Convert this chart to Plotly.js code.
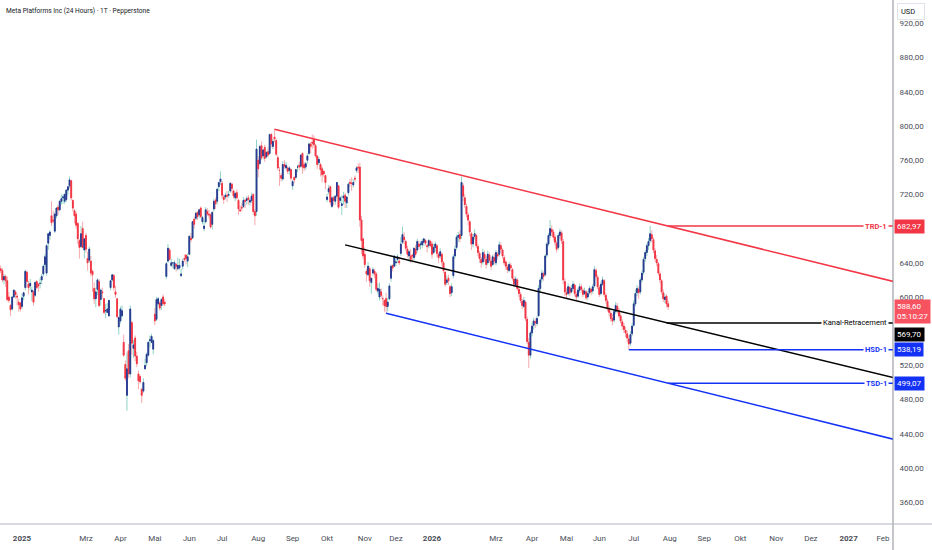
<!DOCTYPE html>
<html><head><meta charset="utf-8">
<script src="https://cdn.plot.ly/plotly-3.0.1.min.js"></script>
<style>html,body{margin:0;padding:0;background:#fff;}#chart{width:932px;height:550px;}</style>
</head><body><div id="chart"></div>
<script>
// ---- daily OHLC (Dec 2024 .. Jul 2026), one line per month ----
const open = [
633,631,620,624,619,600,590,586,600,606,601,594,593,
589,601,611,629,615,613,606,606,602,618,615,616,620,627,638,628,663,672,695,690,
677,695,705,702,712,716,712,714,725,730,736,713,701,697,686,666,659,680,655,
672,645,643,642,630,610,598,609,618,597,606,598,584,582,578,611,620,625,606,598,565,
572,578,547,521,485,537,510,570,540,552,531,510,507,492,490,516,523,532,549,547,539,
580,574,592,593,590,600,594,624,642,655,637,640,633,638,633,634,625,636,645,649,642,
650,669,669,691,692,699,696,704,688,680,688,700,697,696,685,703,713,712,729,735,
733,717,717,719,719,724,732,724,716,722,713,702,705,706,713,713,716,711,713,720,700,700,
760,756,777,765,775,764,770,768,790,776,787,783,763,748,742,738,755,751,751,748,749,
730,740,740,752,754,753,768,755,752,760,768,779,781,784,777,765,757,755,750,747,742,
714,723,729,706,716,712,718,730,713,707,716,719,710,722,734,733,731,739,748,752,752,690,668,
650,630,626,633,617,628,630,627,607,600,606,598,596,598,589,598,622,637,636,
640,644,642,651,664,670,665,656,648,648,649,646,656,655,662,661,661,664,666,660,660,665,
662,652,658,660,650,648,650,640,629,617,622,612,605,625,648,658,670,673,672,730,
716,706,696,688,674,662,671,672,659,651,644,641,650,644,640,649,642,638,646,
640,650,650,660,655,646,641,635,631,637,632,621,614,620,609,603,595,589,594,574,547,532,
558,567,571,569,578,610,621,627,626,649,662,672,679,676,670,663,658,672,675,665,618,
605,604,611,606,610,614,603,601,608,612,608,604,606,600,605,609,607,613,631,623,
611,604,615,619,602,595,586,581,575,573,583,589,584,578,571,566,561,557,551,546,557,
567,592,605,609,606,620,629,645,652,660,666,673,667,654,644,639,627,619,605,597,601,592
];
const high = [
637,634,627,626,624,606,592,601,609,608,604,598,594,
604,606,632,631,619,621,612,608,619,620,616,622,627,638,650,662,675,678,712,701,
699,705,708,713,720,720,721,726,729,741,737,714,703,700,688,668,683,688,669,
675,653,659,648,632,617,611,622,621,610,611,599,592,593,597,620,627,627,613,598,577,
589,590,556,526,535,545,590,572,550,555,536,514,509,494,505,528,535,548,555,557,551,
587,600,600,595,599,603,598,641,662,657,645,641,643,640,646,645,633,645,650,650,651,
672,675,689,694,700,700,703,706,695,690,705,704,702,698,700,715,716,728,734,747,
736,720,722,724,724,734,734,726,723,726,715,707,710,717,715,718,719,715,722,721,703,784,
765,778,782,773,778,771,775,791,792,785,796,785,766,752,745,759,760,758,753,753,750,
737,741,749,755,758,767,769,758,758,768,781,781,790,789,779,766,764,757,753,748,743,
721,731,730,718,718,719,734,731,718,719,723,722,718,734,738,740,738,742,753,756,757,695,669,
658,633,641,636,622,635,633,629,616,617,610,602,597,605,599,616,638,638,648,
647,650,647,670,682,676,667,660,655,656,651,658,661,668,666,665,668,669,668,662,668,667,
665,662,665,662,652,657,652,642,631,625,626,614,616,650,660,673,676,678,741,733,
720,709,699,690,676,673,679,674,662,654,647,656,654,648,654,652,645,650,651,
655,653,665,664,657,649,643,638,641,640,634,624,624,622,611,606,598,600,596,577,552,561,
570,576,575,578,614,623,632,630,650,664,675,690,684,679,673,666,675,680,678,668,622,
610,616,613,614,619,616,606,611,616,615,610,611,608,607,613,611,615,636,634,626,
614,618,624,621,605,598,590,584,580,586,594,593,587,581,574,570,565,561,555,560,569,
596,609,614,612,623,631,647,655,663,669,682.97,678,670,657,649,641,630,621,609,604,603,596
];
const low = [
628,617,615,612,595,593,578,584,599,598,590,583,583,
586,596,608,611,603,608,595,590,600,609,606,610,615,624,635,625,655,667,683,686,
675,692,696,700,708,709,709,711,719,727,713,700,686,680,662,645,657,657,645,
652,631,640,624,606,592,588,602,588,590,598,580,575,581,577,608,618,607,599,575,556,
569,576,530,502,467,505,506,532,529,525,518,492,499,476,488,515,519,530,541,546,533,
567,572,590,584,585,590,589,621,640,643,635,634,632,630,631,632,623,632,641,638,635,
649,664,668,680,690,690,692,692,685,677,686,695,692,680,679,700,703,708,724,731,
715,709,714,711,716,722,722,715,712,714,696,699,700,704,704,708,708,707,710,696,684,695,
740,754,760,761,758,762,763,766,775,773,781,765,748,730,735,736,750,748,744,743,736,
725,733,738,746,748,751,744,747,749,756,766,768,773,775,763,750,754,741,734,740,726,
711,720,707,704,707,708,716,703,710,696,708,704,704,719,729,724,728,734,745,745,682,650,644,
634,618,624,612,604,625,622,606,603,596,598,590,583,581,583,596,618,630,635,
636,640,637,648,662,662,654,646,641,640,642,643,647,652,656,655,657,660,660,652,657,658,
645,650,653,647,640,645,637,628,612,614,614,600,601,622,645,655,664,664,668,712,
704,693,684,671,655,658,667,657,648,640,634,638,641,633,637,640,632,636,638,
637,644,647,652,645,637,632,628,629,630,619,612,612,607,600,593,586,587,572,545,517,528,
554,562,564,566,577,606,617,619,624,646,659,669,671,666,660,652,655,668,662,615,601,
598,602,601,604,608,601,596,599,605,605,600,602,596,597,603,602,604,611,621,609,
600,602,613,600,592,583,578,571,567,570,580,581,575,569,562,558,553,547,538.19,543,554,
565,589,601,598,603,617,626,641,648,655,663,664,651,641,636,625,616,603,594,593,588,585
];
const close = [
631,620,624,619,597,596,585,600,608,603,600,591,586,
599,605,630,618,611,616,608,594,617,611,613,616,624,636,647,660,674,676,687,689,
697,704,702,712,715,717,720,725,729,737,716,704,695,684,668,658,674,658,668,
656,640,656,628,626,598,606,620,590,608,605,582,584,586,596,619,626,611,603,577,576,
586,584,532,505,516,510,586,546,544,531,522,502,501,485,500,520,533,547,550,554,549,
572,597,598,587,597,592,592,639,657,644,640,640,640,636,637,637,627,642,644,645,647,
671,667,688,685,698,694,702,694,693,683,702,697,696,682,699,712,709,726,734,738,
719,714,719,718,720,733,727,718,721,716,703,701,704,713,712,715,714,713,718,700,695,773,
750,776,763,772,762,769,766,790,779,782,785,767,751,748,739,755,753,754,747,751,739,
735,737,749,752,752,766,752,751,756,765,779,776,780,778,765,755,761,749,743,744,734,
717,727,711,716,713,718,734,705,716,709,718,712,717,732,733,733,734,738,751,751,690,666,648,
638,627,636,619,622,632,627,609,610,609,602,598,590,589,594,613,636,634,648,
641,647,640,662,673,667,657,650,653,644,648,657,650,665,659,662,665,668,663,659,666,660,
650,658,662,651,646,653,641,631,615,620,619,604,612,647,656,670,672,668,734,718,
708,697,690,676,662,670,674,660,652,645,640,652,645,638,650,643,636,647,642,
652,648,661,656,648,640,636,632,638,634,622,615,621,610,604,596,590,596,575,548,532,558,
566,572,570,575,610,620,628,624,648,662,672,680,676,670,664,656,672,676,666,620,606,
603,612,605,610,615,604,600,608,612,609,603,607,599,604,610,606,612,632,624,612,
603,615,620,603,596,586,582,575,572,583,590,585,578,572,566,562,558,552,545,556,566,
592,604,610,605,620,628,644,652,660,665,674,668,655,645,640,628,620,606,598,600,592,588.6
];
const firstTradingDay = '2024-12-12';
const holidays = ['2024-12-25','2025-01-01','2025-01-09','2025-01-20','2025-02-17','2025-04-18','2025-05-26','2025-06-19','2025-07-04','2025-09-01','2025-11-27','2025-12-25','2026-01-01','2026-01-19','2026-02-16','2026-04-03','2026-05-25','2026-06-19','2026-07-03'];

// ---- drawn trend lines (anchor points) ----
const redLineX = ['2025-08-15','2027-02-12'];   const redLineY = [796.25, 616.9];
const blackLineX = ['2025-10-16','2027-02-12']; const blackLineY = [661, 504.4];
const blueLineX = ['2025-11-20','2027-02-12'];  const blueLineY = [581, 432.4];

// ---- horizontal levels ----
const levelNames = ['TRD-1','Kanal-Retracement','HSD-1','TSD-1'];
const levelValues = [682.97, 569.70, 538.19, 499.07];
const levelStart = ['2026-07-31','2026-07-30','2026-06-26','2026-07-31'];
const levelEnd = '2027-02-12';
const lastPrice = 588.60;
const countdown = '05:10:27';

// ---- axis ticks ----
const priceTicks = [360,400,440,480,520,600,640,720,760,800,840,880,920];
const monthTickDates = ['2025-01-02','2025-03-03','2025-04-01','2025-05-01','2025-06-02','2025-07-01','2025-08-01','2025-09-02','2025-10-01','2025-11-03','2025-12-01','2026-01-02','2026-03-02','2026-04-01','2026-05-01','2026-06-01','2026-07-01','2026-08-03','2026-09-01','2026-10-01','2026-11-02','2026-12-01','2027-01-01','2027-02-01'];
const monthTickLabels = ['<b>2025</b>','Mrz','Apr','Mai','Jun','Jul','Aug','Sep','Okt','Nov','Dez','<b>2026</b>','Mrz','Apr','Mai','Jun','Jul','Aug','Sep','Okt','Nov','Dez','<b>2027</b>','Feb'];

// ---- styles ----
const levelColors = ['#f23645','#000000','#1432f5','#1432f5'];
const FONT = 'Roboto, "Liberation Sans", Arial, sans-serif';

// trading calendar
const hol = new Set(holidays);
const dates = [];
let d = new Date(firstTradingDay + 'T00:00:00Z');
while (dates.length < close.length) {
  const wd = d.getUTCDay();
  const s = d.toISOString().slice(0,10);
  if (wd !== 0 && wd !== 6 && !hol.has(s)) dates.push(s);
  d = new Date(d.getTime() + 86400000);
}
const bodyHigh = open.map((o,i)=>Math.max(o,close[i]));
const bodyLow = open.map((o,i)=>Math.min(o,close[i]));
const fmt = v => v.toFixed(2).replace('.', ',');

const traces = [
  {type:'candlestick', x:dates, open:open, high:high, low:low, close:close,
   increasing:{line:{color:'#8fd3c6',width:1}, fillcolor:'#8fd3c6'},
   decreasing:{line:{color:'#f7a9ae',width:1}, fillcolor:'#f7a9ae'},
   showlegend:false, hoverinfo:'skip'},
  {type:'candlestick', x:dates, open:open, high:bodyHigh, low:bodyLow, close:close,
   increasing:{line:{color:'#2b3892',width:1}, fillcolor:'#2b3892'},
   decreasing:{line:{color:'#f23645',width:1}, fillcolor:'#f23645'},
   showlegend:false, hoverinfo:'skip'},
  {type:'scatter', mode:'lines', x:redLineX, y:redLineY, line:{color:'#f23645',width:1.5}, showlegend:false, hoverinfo:'skip'},
  {type:'scatter', mode:'lines', x:blackLineX, y:blackLineY, line:{color:'#000000',width:1.5}, showlegend:false, hoverinfo:'skip'},
  {type:'scatter', mode:'lines', x:blueLineX, y:blueLineY, line:{color:'#1432f5',width:1.5}, showlegend:false, hoverinfo:'skip'}
];
levelValues.forEach((v,i)=>{
  traces.push({type:'scatter', mode:'lines', x:[levelStart[i], levelEnd], y:[v,v],
    line:{color:levelColors[i], width:1.5}, showlegend:false, hoverinfo:'skip'});
});

const annotations = [
  {xref:'paper', yref:'paper', x:0, y:1, xanchor:'left', yanchor:'top', xshift:4, yshift:-5,
   text:'Meta Platforms Inc (24 Hours) · 1T · Pepperstone', showarrow:false,
   font:{family:FONT, size:6.6, color:'#131722'}},
  {xref:'paper', yref:'paper', x:1, y:1, xanchor:'left', yanchor:'top', xshift:4, yshift:-3,
   text:'USD&nbsp;&nbsp;&nbsp;', showarrow:false, bgcolor:'#ffffff', bordercolor:'#e0e3eb', borderwidth:1, borderpad:3,
   font:{family:FONT, size:7.5, color:'#131722'}}
];
const boxShift = [0, -12, 0, 0];
levelValues.forEach((v,i)=>{
  const isK = levelNames[i] === 'Kanal-Retracement';
  annotations.push({xref:'paper', yref:'y', x:1, y:v, xanchor:'right', yanchor:'middle', xshift:-4,
    text: isK ? levelNames[i] : '<b>'+levelNames[i]+'</b>', showarrow:false, bgcolor:'#ffffff', borderpad:1,
    font:{family:FONT, size:7.5, color:levelColors[i]}});
  annotations.push({xref:'paper', yref:'y', x:1, y:v, xanchor:'left', yanchor:'middle', xshift:1, yshift:boxShift[i],
    text: fmt(v), showarrow:false, bgcolor:levelColors[i], borderpad:2,
    font:{family:FONT, size:8, color:'#ffffff'}});
});
annotations.push({xref:'paper', yref:'y', x:1, y:lastPrice, xanchor:'left', yanchor:'middle', xshift:1, yshift:-5,
  text: fmt(lastPrice)+'<br>'+countdown, showarrow:false, bgcolor:'#f7525f', borderpad:2, align:'left',
  font:{family:FONT, size:8, color:'#ffffff'}});

const layout = {
  width:932, height:550,
  margin:{l:0, r:39, t:0, b:26},
  paper_bgcolor:'#ffffff', plot_bgcolor:'#ffffff',
  separators:',.',
  showlegend:false,
  hovermode:false,
  xaxis:{type:'date', range:['2024-12-11 14:00','2027-02-09 02:00'],
    rangebreaks:[{bounds:['sat','mon']},{values:holidays}],
    rangeslider:{visible:false},
    tickmode:'array', tickvals:monthTickDates, ticktext:monthTickLabels,
    ticks:'outside', ticklen:6, tickcolor:'rgba(0,0,0,0)',
    tickfont:{family:FONT, size:8, color:'#4a4d57'},
    showgrid:false, zeroline:false, showline:false, fixedrange:true},
  yaxis:{side:'right', range:[334.5, 947.4], tickmode:'array', tickvals:priceTicks, tickformat:'.2f',
    ticks:'outside', ticklen:4, tickcolor:'rgba(0,0,0,0)',
    tickfont:{family:FONT, size:8, color:'#4a4d57'},
    showgrid:false, zeroline:false, showline:false, fixedrange:true},
  shapes:[
    {type:'line', xref:'paper', yref:'paper', x0:1, x1:1, y0:-0.06, y1:1, line:{color:'#8a8d96', width:1}},
    {type:'line', xref:'paper', yref:'paper', x0:0, x1:1.05, y0:0, y1:0, line:{color:'#b2b5be', width:1}}
  ],
  annotations:annotations,
  font:{family:FONT}
};
Plotly.newPlot('chart', traces, layout, {staticPlot:true, displayModeBar:false});
</script>
</body></html>
